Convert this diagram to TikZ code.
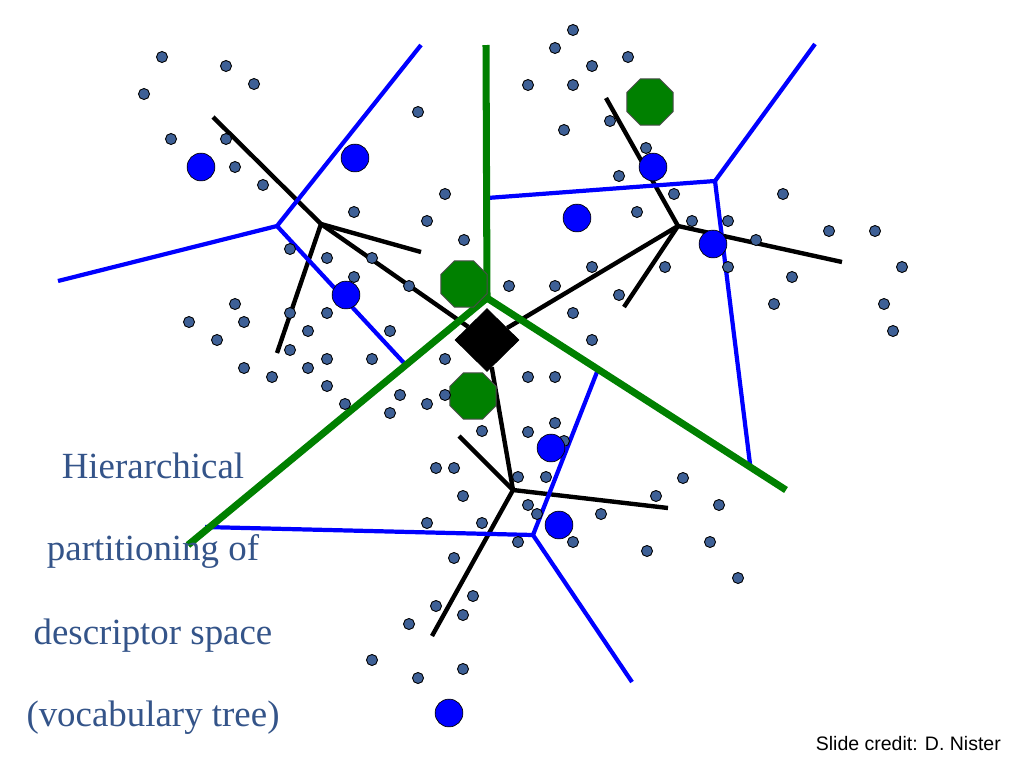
\documentclass[tikz,border=0pt]{standalone}
\usepackage{fontspec}
\setmainfont{Liberation Serif}
\newfontfamily\creditfont{Liberation Sans}
\usetikzlibrary{shapes.geometric}
\definecolor{ptblue}{RGB}{62,96,150}
\definecolor{capblue}{RGB}{52,84,137}
\definecolor{cellgreen}{RGB}{0,128,0}
\tikzset{
  ptdot/.style={fill=ptblue,draw=black,line width=0.5pt},
  centre/.style={fill=blue,draw=black,line width=0.4pt},
  octo/.style={regular polygon,regular polygon sides=8,minimum size=1cm,inner sep=0pt,fill=cellgreen,draw=black!70,line width=0.5pt},
  treeline/.style={line width=2.5pt,black},
  cellline/.style={line width=2.4pt,blue},
  splitline/.style={line width=4pt,cellgreen},
  caption/.style={anchor=base,text=capblue,font=\fontsize{21}{25}\selectfont}
}
\begin{document}
\begin{tikzpicture}[x=0.02cm,y=-0.02cm]
  \useasboundingbox (0,0) rectangle (1024,768);
  % 树的结点
  \node[diamond,fill=black,draw=black,minimum width=1.28cm,minimum height=1.26cm,inner sep=0pt] (root) at (487,340) {};
  \coordinate (n1) at (321,224);
  \coordinate (n2) at (678,226);
  \coordinate (n3) at (513,490);
  \coordinate (n1a) at (213,117);
  \coordinate (n1b) at (421,252);
  \coordinate (n1c) at (277,353);
  \coordinate (n2a) at (606,98);
  \coordinate (n2b) at (842,262);
  \coordinate (n2c) at (624,307);
  \coordinate (n3a) at (459,436);
  \coordinate (n3b) at (668,508);
  \coordinate (n3c) at (432,636);
  % 树枝
  \draw[treeline] (root) -- (n1);
  \draw[treeline] (root) -- (n2);
  \draw[treeline] (root) -- (n3);
  \draw[treeline] (n1a) -- (n1) -- (n1b);
  \draw[treeline] (n1) -- (n1c);
  \draw[treeline] (n2a) -- (n2) -- (n2b);
  \draw[treeline] (n2) -- (n2c);
  \draw[treeline] (n3a) -- (n3) -- (n3b);
  \draw[treeline] (n3) -- (n3c);
  % 第二层划分（蓝）
  \coordinate (v1) at (277,226);
  \coordinate (v2) at (715,181);
  \coordinate (v3) at (533,535);
  \draw[cellline] (58,281) coordinate (e1a) -- (v1) -- (421,45) coordinate (e1b);
  \draw[cellline] (v1) -- (404,363) coordinate (e1c);
  \draw[cellline] (487,198) coordinate (e2a) -- (v2) -- (815,44) coordinate (e2b);
  \draw[cellline] (v2) -- (750,464) coordinate (e2c);
  \draw[cellline] (205,527) coordinate (e3a) -- (v3) -- (597,372) coordinate (e3b);
  \draw[cellline] (v3) -- (632,682) coordinate (e3c);
  % 第一层划分（绿）
  \coordinate (g) at (487,298);
  \draw[splitline] (486,45) coordinate (ga) -- (g);
  \draw[splitline] (188,545) coordinate (gb) -- (g) -- (786,490) coordinate (gc);
  % 聚类中心
  \node[octo] (o1) at (650,102) {};
  \node[octo] (o2) at (464,284) {};
  \node[octo] (o3) at (473,396) {};
  % 描述子
  \foreach \x/\y in {162/57,226/66,144/94,254/84,418/112,171/139,226/139,235/167,263/185,445/194,354/212,427/221,
    573/30,555/48,628/57,592/66,528/85,573/85,610/121,564/130,646/148,619/176,674/194,783/194,637/212,692/221,728/221,
    464/240,290/249,327/258,372/258,354/277,409/286,235/304,189/322,244/322,290/313,327/313,217/340,308/331,390/331,
    290/350,244/368,272/377,308/368,327/359,372/359,445/359,327/386,345/404,400/395,390/413,427/404,445/395,482/431,
    756/240,829/231,875/231,592/267,665/267,728/267,902/267,509/286,555/286,792/277,619/295,573/313,774/304,884/304,
    893/331,592/340,528/377,555/377,528/432,555/423,564/441,436/468,454/468,518/477,546/477,463/496,528/505,537/514,
    601/514,427/523,482/523,518/542,573/542,454/558,647/551,473/596,436/606,463/615,409/624,372/660,418/678,463/669,
    683/478,656/496,719/505,710/542,738/578}
    \draw[ptdot] (\x,\y) circle (3.15pt);
  % 第二层中心
  \foreach \x/\y in {201/167,355/158,346/295,577/218,653/167,713/244,551/448,559/525,449/713}
    \draw[centre] (\x,\y) circle (7.9pt);
  % 文字
  \node[caption] (t1) at (153,478) {Hierarchical};
  \node[caption] (t2) at (153,560) {partitioning of};
  \node[caption] (t3) at (153,644) {descriptor space};
  \node[caption] (t4) at (153,726) {(vocabulary tree)};
  \node[anchor=base east,font=\creditfont\fontsize{11.1}{14}\selectfont] (credit) at (1007,750) {Slide credit: D. Nister};
\end{tikzpicture}
\end{document}
